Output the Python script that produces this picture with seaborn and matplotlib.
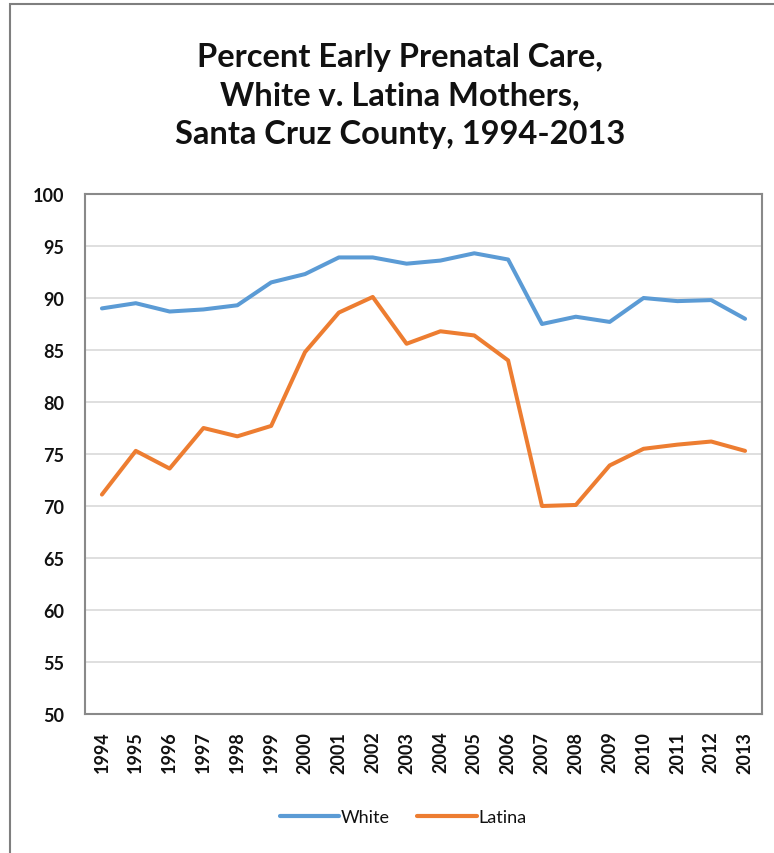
import pandas as pd
import numpy as np
import matplotlib
matplotlib.use('Agg')
import matplotlib.pyplot as plt
import seaborn as sns
from matplotlib.patches import Rectangle

# Data
years = list(range(1994, 2014))
white = [89.0, 89.5, 88.7, 88.9, 89.3, 91.5, 92.3, 93.9, 93.9, 93.3,
         93.6, 94.3, 93.7, 87.5, 88.2, 87.7, 90.0, 89.7, 89.8, 88.0]
latina = [71.1, 75.3, 73.6, 77.5, 76.7, 77.7, 84.8, 88.6, 90.1, 85.6,
          86.8, 86.4, 84.0, 70.0, 70.1, 73.9, 75.5, 75.9, 76.2, 75.3]
series_names = ['White', 'Latina']
series_colors = ['#5B9BD5', '#ED7D31']
y_ticks = list(range(50, 101, 5))

df = pd.DataFrame({
    'Year': years * 2,
    'Percent': white + latina,
    'Group': ['White'] * len(years) + ['Latina'] * len(years),
})

sns.set_theme(style='white')
plt.rcParams['font.family'] = ['Lato', 'DejaVu Sans']
plt.rcParams['text.color'] = '#111111'
plt.rcParams['xtick.color'] = '#111111'
plt.rcParams['ytick.color'] = '#111111'

fig = plt.figure(figsize=(7.74, 8.54), dpi=100)
ax = fig.add_axes([85 / 774, 1 - 715 / 854, (762 - 85) / 774, (715 - 195) / 854])

sns.lineplot(data=df, x='Year', y='Percent', hue='Group', hue_order=series_names,
             palette=series_colors, linewidth=2.9, ax=ax, legend=False)

ax.set_xlim(1993.5, 2013.5)
ax.set_ylim(50, 100)
ax.set_yticks(y_ticks)
ax.set_yticklabels([str(t) for t in y_ticks], fontsize=13, fontweight='bold')
ax.set_xticks(years)
ax.set_xticklabels([str(y) for y in years], rotation=90, fontsize=13, fontweight='bold')
ax.tick_params(axis='y', length=0, pad=15)
ax.tick_params(axis='x', length=0, pad=12)
ax.set_xlabel('')
ax.set_ylabel('')
ax.yaxis.grid(True, color='#d9d9d9', linewidth=1.2)
for sp in ax.spines.values():
    sp.set_color('#898989')
    sp.set_linewidth(1.5)

# title
fig.text(0.517, 1 - 96 / 854,
         'Percent Early Prenatal Care,\nWhite v. Latina Mothers,\nSanta Cruz County, 1994-2013',
         ha='center', va='center', fontsize=23.5, fontweight='bold', linespacing=1.38)

# legend
handles = [plt.Line2D([], [], color=c, linewidth=3) for c in series_colors]
fig.legend(handles, series_names, loc='center', bbox_to_anchor=(403 / 774, 1 - 818 / 854),
           ncol=2, frameon=False, fontsize=13, handlelength=3.3, columnspacing=1.5,
           handletextpad=0.1)

# outer chart border (right and bottom edges run off the image)
fig.patches.append(Rectangle((10 / 774, -0.1), 1.2, 1.1 - 5 / 854, transform=fig.transFigure,
                             fill=False, edgecolor='#7f7f7f', linewidth=1.5))

fig.savefig('out.png', dpi=100)
